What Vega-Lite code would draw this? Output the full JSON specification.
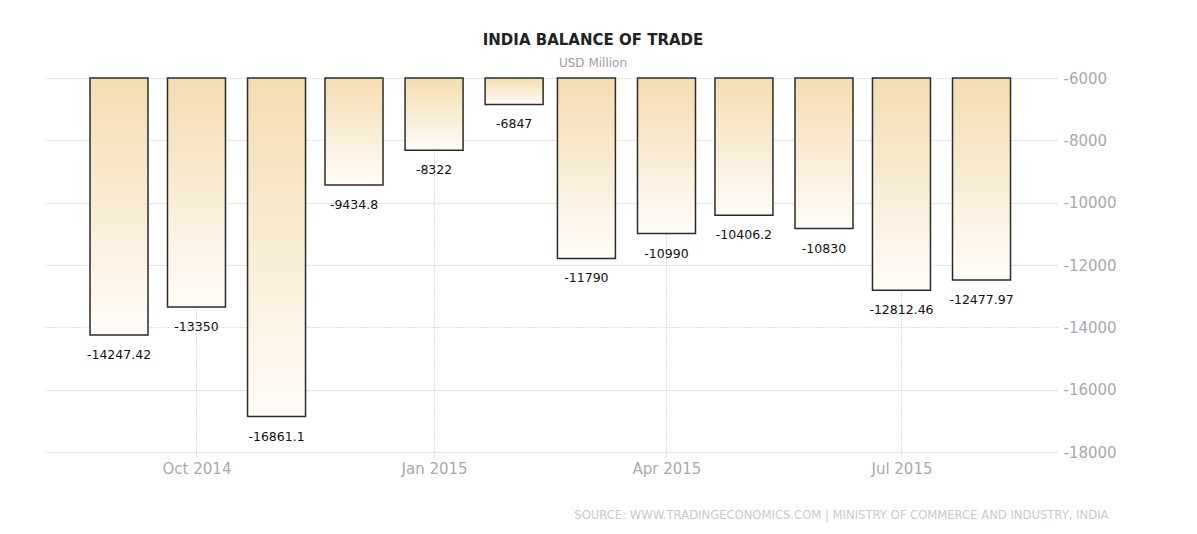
{
  "$schema": "https://vega.github.io/schema/vega-lite/v6.json",
  "width": 1014,
  "height": 374,
  "autosize": {"type": "none"},
  "padding": {"left": 43, "top": 78, "right": 140, "bottom": 82},
  "background": "white",
  "title": {
    "text": "INDIA BALANCE OF TRADE",
    "subtitle": "USD Million",
    "anchor": "middle",
    "frame": "group",
    "dx": 43,
    "offset": 2,
    "font": "DejaVu Sans",
    "fontSize": 15,
    "fontWeight": "bold",
    "color": "#222222",
    "subtitleFont": "DejaVu Sans",
    "subtitleFontSize": 12,
    "subtitleColor": "#9f9aa8",
    "subtitlePadding": 10
  },
  "data": {
    "values": [
      {"month": "2014-09-01", "value": -14247.42},
      {"month": "2014-10-01", "value": -13350},
      {"month": "2014-11-01", "value": -16861.1},
      {"month": "2014-12-01", "value": -9434.8},
      {"month": "2015-01-01", "value": -8322},
      {"month": "2015-02-01", "value": -6847},
      {"month": "2015-03-01", "value": -11790},
      {"month": "2015-04-01", "value": -10990},
      {"month": "2015-05-01", "value": -10406.2},
      {"month": "2015-06-01", "value": -10830},
      {"month": "2015-07-01", "value": -12812.46},
      {"month": "2015-08-01", "value": -12477.97}
    ]
  },
  "encoding": {
    "x": {
      "field": "month",
      "type": "temporal",
      "scale": {
        "type": "utc",
        "domain": [
          {"year": 2014, "month": 8, "date": 4, "hours": 12, "utc": true},
          {"year": 2015, "month": 8, "date": 28, "hours": 7, "utc": true}
        ]
      },
      "axis": {
        "values": [
          {"year": 2014, "month": 10, "date": 1, "utc": true},
          {"year": 2015, "month": 1, "date": 1, "utc": true},
          {"year": 2015, "month": 4, "date": 1, "utc": true},
          {"year": 2015, "month": 7, "date": 1, "utc": true}
        ],
        "labelExpr": "utcFormat(datum.value, '%b %Y')",
        "domain": false,
        "grid": true,
        "gridColor": "#bdbdbd",
        "gridDash": [1, 2],
        "gridWidth": 1,
        "ticks": true,
        "tickColor": "#bdbdbd",
        "tickDash": [1, 2],
        "tickSize": 4,
        "labelFont": "DejaVu Sans",
        "labelFontSize": 15,
        "labelColor": "#a8a8b0",
        "labelPadding": 5,
        "title": "SOURCE: WWW.TRADINGECONOMICS.COM  |  MINISTRY OF COMMERCE AND INDUSTRY, INDIA",
        "titleFont": "DejaVu Sans",
        "titleFontSize": 11.6,
        "titleFontWeight": "normal",
        "titleColor": "#c9c9cc",
        "titleAlign": "right",
        "titleBaseline": "middle",
        "titleX": 1065,
        "titleY": 63
      }
    },
    "y": {
      "field": "value",
      "type": "quantitative",
      "scale": {"domain": [-18000, -6000], "nice": false, "zero": false},
      "axis": {
        "orient": "right",
        "values": [-18000, -16000, -14000, -12000, -10000, -8000, -6000],
        "labelExpr": "'' + datum.value",
        "domain": false,
        "ticks": false,
        "grid": true,
        "gridColor": "#bdbdbd",
        "gridDash": [1, 2],
        "gridWidth": 1,
        "labelFont": "DejaVu Sans",
        "labelFontSize": 15,
        "labelColor": "#a8a8b0",
        "labelPadding": 6,
        "title": null
      }
    }
  },
  "layer": [
    {
      "mark": {
        "type": "bar",
        "width": 58,
        "stroke": "#2b2b2b",
        "strokeWidth": 1.5,
        "fill": {
          "gradient": "linear",
          "x1": 0, "y1": 0, "x2": 0, "y2": 1,
          "stops": [
            {"offset": 0, "color": "#f4dcb0"},
            {"offset": 1, "color": "#fffcf8"}
          ]
        }
      },
      "encoding": {
        "y2": {"datum": -6000}
      }
    },
    {
      "mark": {
        "type": "text",
        "baseline": "middle",
        "align": "center",
        "dy": 20,
        "font": "DejaVu Sans",
        "fontSize": 12.5,
        "color": "#111111"
      },
      "encoding": {
        "text": {"field": "value", "type": "nominal"}
      }
    }
  ],
  "config": {
    "view": {"stroke": null}
  }
}
